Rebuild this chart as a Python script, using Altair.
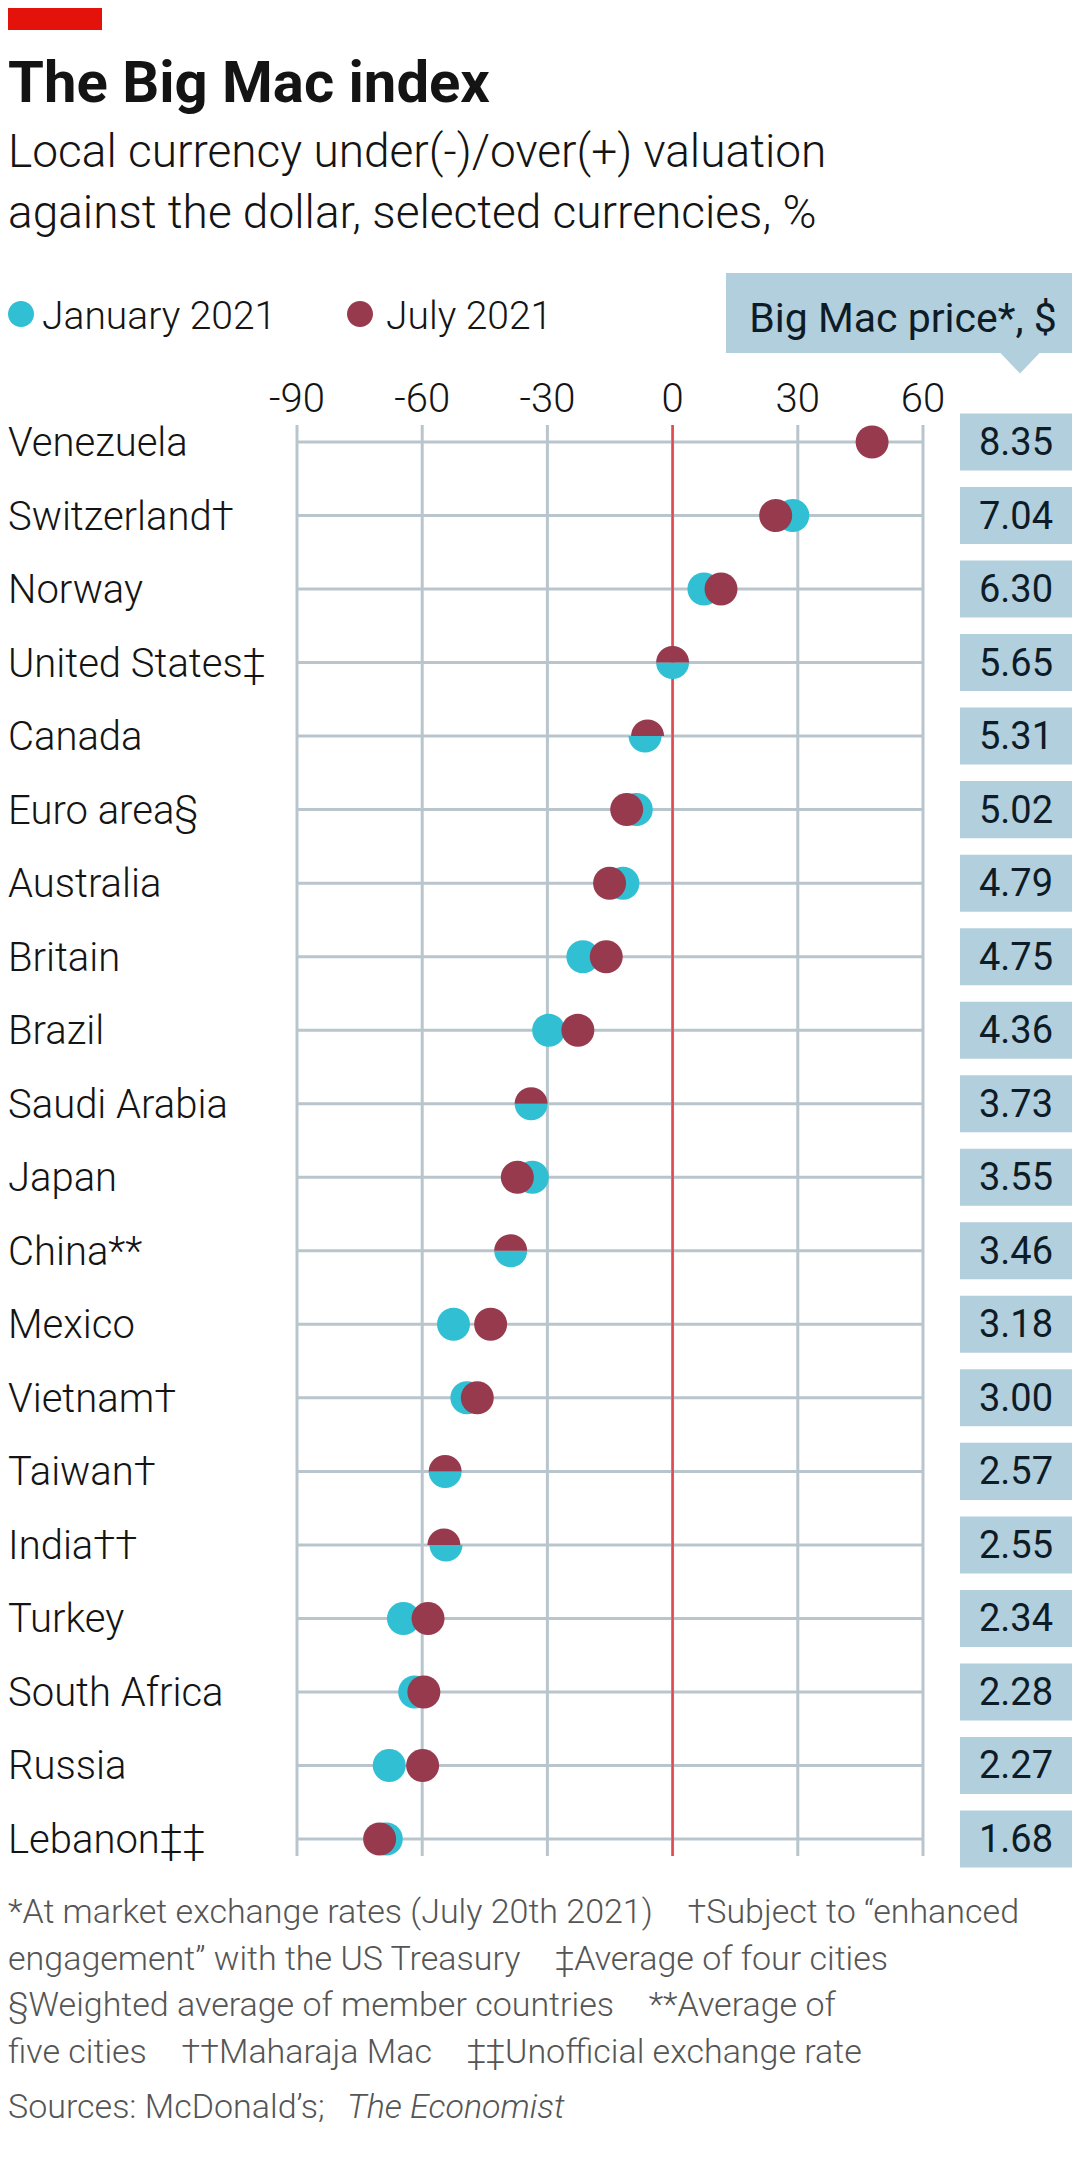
import altair as alt
import pandas as pd

# ---------------- data ----------------
countries = ["Venezuela", "Switzerland†", "Norway", "United States‡", "Canada",
             "Euro area§", "Australia", "Britain", "Brazil", "Saudi Arabia",
             "Japan", "China**", "Mexico", "Vietnam†", "Taiwan†", "India††",
             "Turkey", "South Africa", "Russia", "Lebanon‡‡"]
jan_values = [None, 28.8, 7.5, 0.0, -6.6, -8.7, -11.9, -21.5, -29.7, -33.9,
              -33.6, -38.8, -52.5, -49.3, -54.5, -54.3, -64.5, -61.8, -67.9, -68.6]
jul_values = [47.8, 24.7, 11.6, 0.0, -6.0, -11.0, -15.1, -15.9, -22.7, -33.9,
              -37.2, -38.8, -43.6, -46.8, -54.5, -54.8, -58.6, -59.6, -59.9, -70.2]
# rows where the two dots coincide and are drawn as two halves
split_rows = [False, False, False, True, True, False, False, False, False, True,
              False, True, False, False, True, True, False, False, False, False]
prices = [8.35, 7.04, 6.30, 5.65, 5.31, 5.02, 4.79, 4.75, 4.36, 3.73,
          3.55, 3.46, 3.18, 3.00, 2.57, 2.55, 2.34, 2.28, 2.27, 1.68]
tick_values = [-90, -60, -30, 0, 30, 60]
tick_labels = ["-90", "-60", "-30", "0", "30", "60"]

title_text = "The Big Mac index"
subtitle_text = "Local currency under(-)/over(+) valuation\nagainst the dollar, selected currencies, %"
legend_labels = ["January 2021", "July 2021"]
header_text = "Big Mac price*, $"
footnote_text = ("*At market exchange rates (July 20th 2021)\u2003†Subject to “enhanced\n"
                 "engagement” with the US Treasury\u2003‡Average of four cities\n"
                 "§Weighted average of member countries\u2003**Average of\n"
                 "five cities\u2003††Maharaja Mac\u2003‡‡Unofficial exchange rate")
source_plain = "Sources: McDonald’s;"
source_italic = "The Economist"

df = pd.DataFrame({"country": countries, "jan": jan_values, "jul": jul_values,
                   "split": split_rows, "price": prices})
ticks_df = pd.DataFrame({"v": tick_values, "lab": tick_labels})

# ---------------- style ----------------
FONT = "Roboto, sans-serif"
LIGHT = 300
CYAN = "#30BFD3"
MAROON = "#983A4E"
GRID = "#B9C5CC"
BOX = "#B2CFDD"
RED = "#E3120B"
ZERO = "#DE4C52"
INK = "#141414"
NAVY = "#0E1C28"
GREY = "#555555"

CIRCLE = "M-1,0A1,1,0,1,1,1,0A1,1,0,1,1,-1,0Z"
TOP_HALF = "M-1,0A1,1,0,0,1,1,0Z"
BOTTOM_HALF = "M-1,0A1,1,0,0,0,1,0Z"
RECT = "M-1,-0.509L1,-0.509L1,0.509L-1,0.509Z"
TRIANGLE = "M-1,0L1,0L0,1.05Z"
DOT_SIZE = 1089

xscale = alt.Scale(domain=[-90, 60], nice=False, zero=False)
yscale = alt.Scale(type="point", domain=countries, padding=0.231)
Y = alt.Y("country:N", scale=yscale, axis=None, sort=countries)

base = alt.Chart(df)

# grid lines
grid_v = alt.Chart(ticks_df).mark_rule(color=GRID, strokeWidth=3).encode(
    x=alt.X("v:Q", scale=xscale, axis=None)
)
grid_h = base.mark_rule(color=GRID, strokeWidth=3).encode(y=Y)

# tick labels (top)
tick_text = alt.Chart(ticks_df).mark_text(
    font=FONT, fontSize=40, fontWeight=LIGHT, color=INK, align="center",
    baseline="alphabetic"
).encode(x=alt.X("v:Q", scale=xscale, axis=None), y=alt.value(-13), text="lab:N")

# country labels (left)
country_text = base.mark_text(
    font=FONT, fontSize=40, fontWeight=LIGHT, color=INK, align="left",
    baseline="middle", dy=2
).encode(x=alt.value(-289), y=Y, text="country:N")

# zero line
zero_df = pd.DataFrame({"v": [0]})
zero_rule = alt.Chart(zero_df).mark_rule(color=ZERO, strokeWidth=2.5).encode(
    x=alt.X("v:Q", scale=xscale, axis=None)
)


def dots(field, color, shape, split_value):
    return base.transform_filter(
        f"isValid(datum.{field}) && datum.split == {str(split_value).lower()}"
    ).mark_point(shape=shape, filled=True, size=DOT_SIZE, color=color,
                 opacity=1, strokeWidth=0).encode(
        x=alt.X(f"{field}:Q", scale=xscale, axis=None),
        y=Y,
    )


jan_full = dots("jan", CYAN, CIRCLE, False)
jan_half = dots("jan", CYAN, BOTTOM_HALF, True)
jul_full = dots("jul", MAROON, CIRCLE, False)
jul_half = dots("jul", MAROON, TOP_HALF, True)

# price column
price_boxes = base.mark_point(shape=RECT, filled=True, size=112 ** 2, color=BOX,
                              opacity=1, strokeWidth=0).encode(x=alt.value(719), y=Y)
price_text = base.mark_text(font=FONT, fontSize=38, color=NAVY, align="center",
                            baseline="middle", dy=2).encode(
    x=alt.value(719), y=Y, text=alt.Text("price:Q", format=".2f"),
)

one = pd.DataFrame({"t": [0]})
header_box = alt.Chart(one).mark_rect(color=BOX).encode(
    x=alt.value(429), x2=alt.value(775), y=alt.value(-152), y2=alt.value(-72)
)
header_tri = alt.Chart(one).mark_point(shape=TRIANGLE, filled=True, size=1600,
                                       color=BOX, opacity=1, strokeWidth=0).encode(
    x=alt.value(723), y=alt.value(-72.5)
)
header_label = alt.Chart(pd.DataFrame({"t": [header_text]})).mark_text(
    font=FONT, fontSize=41, color=NAVY, align="center", baseline="alphabetic"
).encode(x=alt.value(606), y=alt.value(-93), text="t:N")

red_bar = alt.Chart(one).mark_rect(color=RED).encode(
    x=alt.value(-289), x2=alt.value(-195), y=alt.value(-417), y2=alt.value(-395)
)
title = alt.Chart(pd.DataFrame({"t": [title_text]})).mark_text(
    font=FONT, fontSize=58, fontWeight="bold", color=INK, align="left",
    baseline="alphabetic"
).encode(x=alt.value(-289), y=alt.value(-323), text="t:N")
subtitle = alt.Chart(pd.DataFrame({"t": [subtitle_text]})).mark_text(
    font=FONT, fontSize=46, fontWeight=LIGHT, color=INK, align="left",
    baseline="alphabetic", lineBreak="\n", lineHeight=61
).encode(x=alt.value(-289), y=alt.value(-258), text="t:N")

# legend
leg_dot_jan = alt.Chart(one).mark_point(shape=CIRCLE, filled=True, size=676,
                                        color=CYAN, opacity=1, strokeWidth=0).encode(
    x=alt.value(-276), y=alt.value(-111))
leg_dot_jul = alt.Chart(one).mark_point(shape=CIRCLE, filled=True, size=676,
                                        color=MAROON, opacity=1, strokeWidth=0).encode(
    x=alt.value(63), y=alt.value(-111))
leg_txt_jan = alt.Chart(pd.DataFrame({"t": [legend_labels[0]]})).mark_text(
    font=FONT, fontSize=39, fontWeight=LIGHT, color=INK, align="left",
    baseline="alphabetic"
).encode(x=alt.value(-255), y=alt.value(-96), text="t:N")
leg_txt_jul = alt.Chart(pd.DataFrame({"t": [legend_labels[1]]})).mark_text(
    font=FONT, fontSize=39, fontWeight=LIGHT, color=INK, align="left",
    baseline="alphabetic"
).encode(x=alt.value(89), y=alt.value(-96), text="t:N")

# footnotes
footnotes = alt.Chart(pd.DataFrame({"t": [footnote_text]})).mark_text(
    font=FONT, fontSize=34, fontWeight=LIGHT, color=GREY, align="left",
    baseline="alphabetic", lineBreak="\n", lineHeight=46.7
).encode(x=alt.value(-289), y=alt.value(1498), text="t:N")
source1 = alt.Chart(pd.DataFrame({"t": [source_plain]})).mark_text(
    font=FONT, fontSize=34, fontWeight=LIGHT, color=GREY, align="left",
    baseline="alphabetic"
).encode(x=alt.value(-289), y=alt.value(1693), text="t:N")
source2 = alt.Chart(pd.DataFrame({"t": [source_italic]})).mark_text(
    font=FONT, fontSize=34, fontWeight=LIGHT, color=GREY, align="left",
    baseline="alphabetic", fontStyle="italic"
).encode(x=alt.value(50), y=alt.value(1693), text="t:N")

chart = alt.layer(
    grid_v, grid_h, zero_rule, tick_text, country_text,
    jan_full, jan_half, jul_full, jul_half,
    price_boxes, price_text, header_box, header_tri, header_label,
    red_bar, title, subtitle, leg_dot_jan, leg_dot_jul, leg_txt_jan, leg_txt_jul,
    footnotes, source1, source2,
).properties(
    width=626, height=1431,
    padding={"left": 289, "top": 417, "right": 149, "bottom": 296},
    autosize=alt.AutoSizeParams(type="none"),
    background="white",
).configure_view(stroke=None)

chart.save("out.html", embed_options={"renderer": "svg", "actions": False})
